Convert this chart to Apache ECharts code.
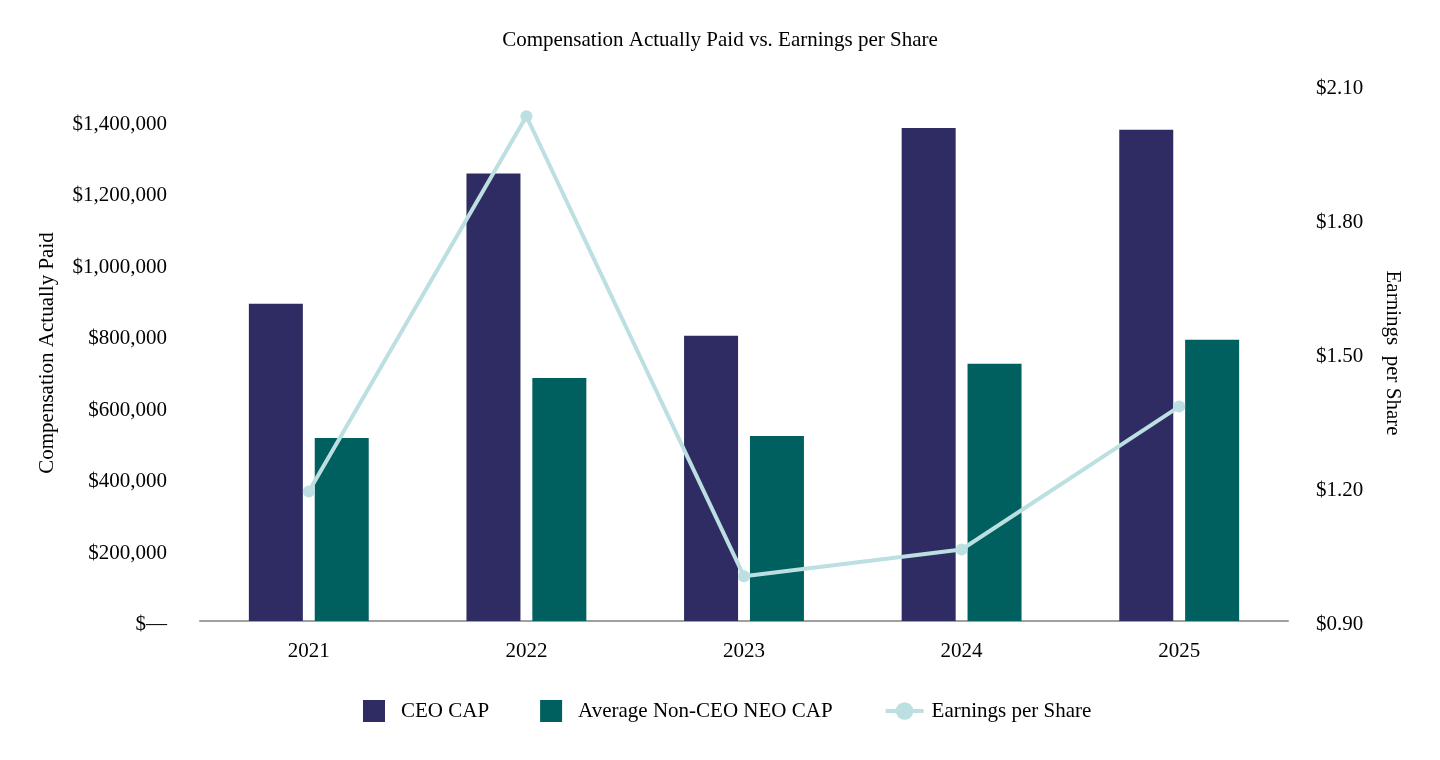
<!DOCTYPE html>
<html>
<head>
<meta charset="utf-8">
<script src="https://cdn.jsdelivr.net/npm/echarts@6/dist/echarts.min.js"></script>
<style>
  html, body { margin: 0; padding: 0; background: #fff; }
  #chart { width: 1440px; height: 760px; }
</style>
</head>
<body>
<div id="chart"></div>
<script>
const years = ['2021', '2022', '2023', '2024', '2025']
const ceoCap = [888000, 1252000, 798000, 1380000, 1375000]
const neoCap = [512000, 680000, 518000, 720000, 787000]
const eps = [1.19, 2.03, 1.00, 1.06, 1.38]

const font = '"Liberation Serif", "Times New Roman", serif'
const square = 'path://M0,0h10v10h-10z'

// labels sit a few px below the tick in the original
const lbl = { t: { fontFamily: font, fontSize: 21, color: '#000', padding: [7, 0, 0, 0] } }
const fmtMoney = v => '{t|' + (v === 0 ? '$\u2014' : '$' + v.toLocaleString('en-US')) + '}'

const chart = echarts.init(document.getElementById('chart'))
chart.setOption({
  backgroundColor: '#fff',
  textStyle: { fontFamily: font, color: '#000' },
  title: {
    text: 'Compensation Actually Paid vs. Earnings per Share',
    left: 'center',
    top: 25,
    textStyle: { fontFamily: font, fontSize: 21, fontWeight: 'normal', color: '#000' }
  },
  legend: {
    bottom: 33,
    left: 358,
    itemWidth: 38,
    itemHeight: 22,
    itemGap: 51,
    textStyle: { fontFamily: font, fontSize: 21, color: '#000', padding: [0, 0, 0, 3] },
    data: [
      { name: 'CEO CAP', icon: square },
      { name: 'Average Non-CEO NEO CAP', icon: square },
      { name: 'Earnings per Share', lineStyle: { width: 4 } }
    ]
  },
  grid: { left: 200, right: 152, top: 85, bottom: 139 },
  xAxis: {
    type: 'category',
    data: years,
    axisTick: { show: false },
    axisLine: { lineStyle: { color: '#a0a0a0', width: 2 } },
    axisLabel: { fontFamily: font, fontSize: 21, color: '#000', margin: 20 }
  },
  yAxis: [
    {
      type: 'value',
      min: 0,
      max: 1500000,
      interval: 200000,
      name: 'Compensation Actually Paid',
      nameLocation: 'middle',
      nameGap: 142,
      nameTextStyle: { fontFamily: font, fontSize: 21, color: '#000' },
      axisLine: { show: false },
      axisTick: { show: false },
      splitLine: { show: false },
      axisLabel: {
        margin: 33,
        showMaxLabel: false,
        formatter: fmtMoney,
        rich: lbl
      }
    },
    {
      type: 'value',
      min: 0.9,
      max: 2.1,
      interval: 0.3,
      name: 'Earnings  per Share',
      nameLocation: 'middle',
      nameRotate: -90,
      nameGap: 94,
      nameTextStyle: { fontFamily: font, fontSize: 21, color: '#000' },
      axisLine: { show: false },
      axisTick: { show: false },
      splitLine: { show: false },
      axisLabel: {
        margin: 28,
        formatter: v => '{t|$' + v.toFixed(2) + '}',
        rich: lbl
      }
    }
  ],
  series: [
    {
      name: 'CEO CAP',
      type: 'bar',
      data: ceoCap,
      barWidth: 54,
      barGap: '22%',
      itemStyle: { color: '#2e2c62' }
    },
    {
      name: 'Average Non-CEO NEO CAP',
      type: 'bar',
      data: neoCap,
      barWidth: 54,
      itemStyle: { color: '#005f5f' }
    },
    {
      name: 'Earnings per Share',
      type: 'line',
      yAxisIndex: 1,
      data: eps,
      symbol: 'circle',
      symbolSize: 12,
      lineStyle: { width: 4, color: '#bcdfe2' },
      itemStyle: { color: '#bcdfe2' },
      z: 5
    }
  ]
})
</script>
</body>
</html>
